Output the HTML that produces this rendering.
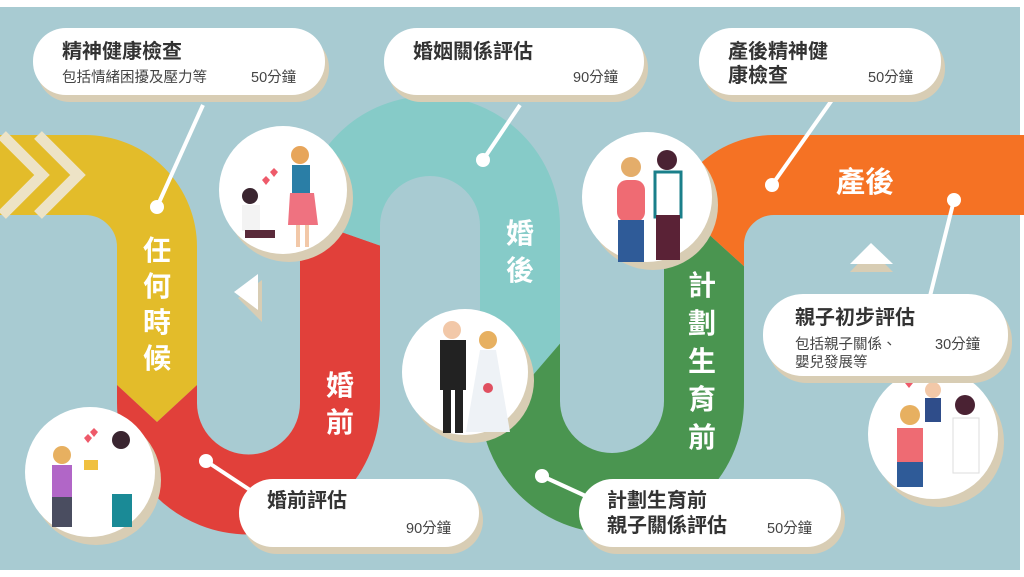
<!DOCTYPE html>
<html><head><meta charset="utf-8"><style>
html,body{margin:0;padding:0;background:#fff;}
svg{display:block;}
text{font-family:"Liberation Sans","Noto Sans CJK TC",sans-serif;}
.t{font-size:20px;font-weight:bold;fill:#333;}
.s{font-size:14.5px;fill:#444;}
.v{font-size:28px;font-weight:bold;fill:#fff;text-anchor:middle;}
</style></head><body>
<svg width="1024" height="577" viewBox="0 0 1024 577" xmlns="http://www.w3.org/2000/svg">
<defs>
<path id="road" d="M-10,175 H85 A72,72 0 0 1 157,247 V403 A91.5,91.5 0 0 0 340,403 V226 A90,90 0 0 1 520,226 V401 A92,92 0 0 0 704,401 V245 A70,70 0 0 1 774,175 H1040"/>
<clipPath id="cy"><polygon points="-10,-10 250,-10 250,385 197,385 157,422 117,385 -10,385"/></clipPath>
<clipPath id="cr"><polygon points="-10,385 117,385 157,422 197,385 250,385 250,200 430,263 430,600 -10,600"/></clipPath>
<clipPath id="ct"><polygon points="250,-10 600,-10 600,297 430,495 430,263 250,200"/></clipPath>
<clipPath id="cg"><polygon points="430,495 600,297 600,181 650,181 800,317 800,600 430,600"/></clipPath>
<clipPath id="co"><polygon points="600,-10 1100,-10 1100,600 800,600 800,317 650,181 600,181"/></clipPath>
</defs>
<rect x="0" y="7" width="1020" height="563" fill="#a8cbd2"/>
<g fill="none" stroke-width="80">
<use href="#road" stroke="#e3bc2a" clip-path="url(#cy)"/>
<use href="#road" stroke="#e1403a" clip-path="url(#cr)"/>
<use href="#road" stroke="#86cbc8" clip-path="url(#ct)"/>
<use href="#road" stroke="#4a9550" clip-path="url(#cg)"/>
<use href="#road" stroke="#f57224" clip-path="url(#co)"/>
</g>
<g fill="none" stroke="#ede3c6" stroke-width="11">
<polyline points="2,135 42,175 2,215"/>
<polyline points="38,135 78,175 38,215"/>
</g>
<polygon points="262,280 238,298 262,322" fill="#d8cdb4"/>
<polygon points="258,274 234,292 258,310" fill="#fff"/>
<polygon points="871,250 850,272 893,272" fill="#d8cdb4"/>
<polygon points="871,243 850,264 893,264" fill="#fff"/>
<text class="v" x="157" y="260">任</text>
<text class="v" x="157" y="296">何</text>
<text class="v" x="157" y="332">時</text>
<text class="v" x="157" y="368">候</text>
<text class="v" x="340" y="395">婚</text>
<text class="v" x="340" y="432">前</text>
<text class="v" x="520" y="243">婚</text>
<text class="v" x="520" y="280">後</text>
<text class="v" x="702" y="295">計</text>
<text class="v" x="702" y="333">劃</text>
<text class="v" x="702" y="371">生</text>
<text class="v" x="702" y="409">育</text>
<text class="v" x="702" y="447">前</text>
<text x="865" y="192" style="font-size:29px;font-weight:bold;fill:#fff;text-anchor:middle">產後</text>
<g stroke="#fff" stroke-width="4">
<line x1="203" y1="105" x2="157" y2="207"/>
<line x1="520" y1="105" x2="483" y2="160"/>
<line x1="832" y1="100" x2="772" y2="185"/>
<line x1="250" y1="490" x2="206" y2="461"/>
<line x1="590" y1="498" x2="542" y2="476"/>
<line x1="930" y1="296" x2="954" y2="200"/>
</g>
<g fill="#fff">
<circle cx="157" cy="207" r="7"/><circle cx="483" cy="160" r="7"/><circle cx="772" cy="185" r="7"/>
<circle cx="206" cy="461" r="7"/><circle cx="542" cy="476" r="7"/><circle cx="954" cy="200" r="7"/>
</g>
<g fill="#d8cdb4">
<circle cx="289" cy="198" r="64"/><circle cx="471" cy="380" r="63"/><circle cx="653" cy="205" r="65"/>
<circle cx="96" cy="480" r="65"/><circle cx="939" cy="442" r="65"/>
</g>
<g fill="#fff">
<circle cx="283" cy="190" r="64"/><circle cx="465" cy="372" r="63"/><circle cx="647" cy="197" r="65"/>
<circle cx="90" cy="472" r="65"/><circle cx="933" cy="434" r="65"/>
</g>
<g>
<circle cx="300" cy="155" r="9" fill="#e7a55a"/><rect x="292" y="165" width="18" height="28" fill="#2a7ea6"/>
<path d="M290,193 h24 l4,32 h-30z" fill="#ef7280"/><rect x="296" y="225" width="4" height="22" fill="#f2c8a8"/><rect x="305" y="225" width="4" height="22" fill="#f2c8a8"/>
<circle cx="250" cy="196" r="8" fill="#3a2530"/><rect x="242" y="205" width="18" height="26" fill="#f3f3f3"/><rect x="245" y="230" width="30" height="8" fill="#5a2a3a"/>
<path d="M270,172 l4,-4 4,4 -4,5z M262,180 l4,-4 4,4 -4,5z" fill="#ee5a6a"/>
</g>
<g>
<circle cx="452" cy="330" r="9" fill="#f2c8a8"/><rect x="440" y="340" width="26" height="50" fill="#222"/><rect x="443" y="388" width="8" height="45" fill="#222"/><rect x="455" y="388" width="8" height="45" fill="#222"/>
<circle cx="488" cy="340" r="9" fill="#e7b060"/><path d="M480,350 h16 l14,82 h-44z" fill="#eef2f6"/><circle cx="488" cy="388" r="5" fill="#e05060"/>
</g>
<g>
<circle cx="631" cy="167" r="10" fill="#e4ad6a"/><rect x="617" y="180" width="28" height="42" rx="10" fill="#ef6b73"/><rect x="618" y="220" width="26" height="42" fill="#2f5b98"/>
<circle cx="667" cy="160" r="10" fill="#4a2233"/><rect x="655" y="172" width="26" height="45" fill="#fff" stroke="#1a7f8a" stroke-width="3"/><rect x="656" y="215" width="24" height="45" fill="#5a2236"/>
</g>
<g>
<circle cx="62" cy="455" r="9" fill="#e7b060"/><rect x="52" y="465" width="20" height="32" fill="#b166c7"/><rect x="52" y="497" width="20" height="30" fill="#4a4d60"/>
<circle cx="121" cy="440" r="9" fill="#3a2530"/><rect x="110" y="452" width="24" height="42" fill="#fff"/><rect x="112" y="494" width="20" height="33" fill="#1a8a96"/>
<rect x="84" y="460" width="14" height="10" fill="#f0c040"/><path d="M84,438 l4,-4 4,4 -4,5z M90,432 l4,-4 4,4 -4,5z" fill="#ee5a6a"/>
</g>
<g>
<circle cx="910" cy="415" r="10" fill="#e7b060"/><rect x="897" y="428" width="26" height="35" fill="#ee6b73"/><rect x="897" y="462" width="26" height="25" fill="#2f5b98"/>
<circle cx="933" cy="390" r="8" fill="#f2c8a8"/><rect x="925" y="398" width="16" height="24" fill="#2f4d8a"/>
<circle cx="965" cy="405" r="10" fill="#4a2233"/><rect x="953" y="418" width="26" height="55" fill="#fff" stroke="#ddd"/>
<path d="M905,383 l4,-4 4,4 -4,5z M914,378 l4,-4 4,4 -4,5z" fill="#ee5a6a"/>
</g>
<g fill="#d8cdb4">
<rect x="37" y="35" width="292" height="67" rx="33"/>
<rect x="388" y="35" width="260" height="67" rx="33"/>
<rect x="703" y="35" width="242" height="67" rx="33"/>
<rect x="767" y="301" width="245" height="82" rx="40"/>
<rect x="243" y="486" width="240" height="68" rx="34"/>
<rect x="583" y="486" width="262" height="68" rx="34"/>
</g>
<g fill="#fff">
<rect x="33" y="28" width="292" height="67" rx="33"/>
<rect x="384" y="28" width="260" height="67" rx="33"/>
<rect x="699" y="28" width="242" height="67" rx="33"/>
<rect x="763" y="294" width="245" height="82" rx="40"/>
<rect x="239" y="479" width="240" height="68" rx="34"/>
<rect x="579" y="479" width="262" height="68" rx="34"/>
</g>
<text class="t" x="62" y="58">精神健康檢查</text>
<text class="s" x="62" y="82">包括情緒困擾及壓力等</text>
<text class="s" x="251" y="82">50分鐘</text>
<text class="t" x="413" y="58">婚姻關係評估</text>
<text class="s" x="573" y="82">90分鐘</text>
<text class="t" x="728" y="58">產後精神健</text>
<text class="t" x="728" y="82">康檢查</text>
<text class="s" x="868" y="82">50分鐘</text>
<text class="t" x="795" y="324">親子初步評估</text>
<text class="s" x="795" y="349">包括親子關係、</text>
<text class="s" x="795" y="367">嬰兒發展等</text>
<text class="s" x="935" y="349">30分鐘</text>
<text class="t" x="267" y="507">婚前評估</text>
<text class="s" x="406" y="533">90分鐘</text>
<text class="t" x="607" y="507">計劃生育前</text>
<text class="t" x="607" y="532">親子關係評估</text>
<text class="s" x="767" y="533">50分鐘</text>
</svg>
</body></html>
